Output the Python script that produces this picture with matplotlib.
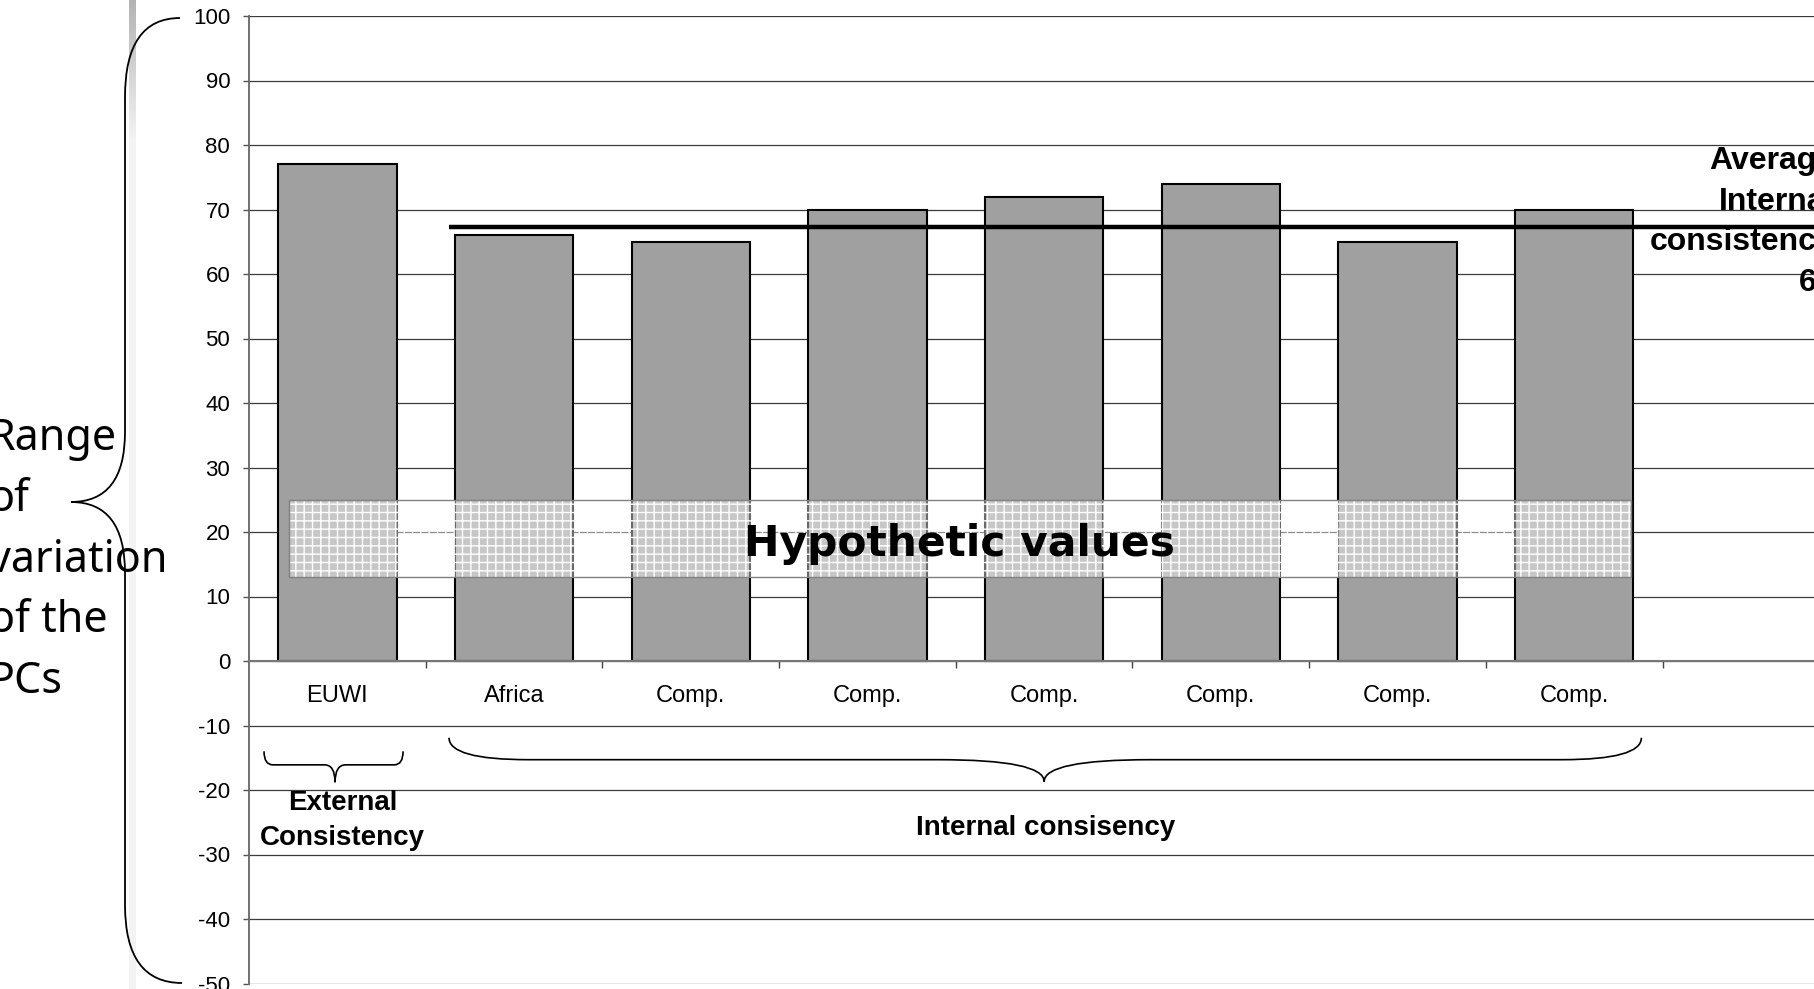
import matplotlib
matplotlib.use('Agg')
import matplotlib.pyplot as plt
import numpy as np
from matplotlib.patches import Rectangle, PathPatch
from matplotlib.path import Path

plt.rcParams['font.family'] = ['Liberation Sans', 'DejaVu Sans']
plt.rcParams['axes.unicode_minus'] = False

# data
categories = ['EUWI', 'Africa', 'Comp.', 'Comp.', 'Comp.', 'Comp.', 'Comp.', 'Comp.']
values = [77, 66, 65, 70, 72, 74, 65, 70]
avg_internal = 67.3
hyp_low, hyp_high = 13, 25
yticks = np.arange(-50, 101, 10)

W, H = 1814, 989


def fx(x):
    return x / W


def fy(y):
    return 1 - y / H


fig = plt.figure(figsize=(W / 100, H / 100), dpi=100)

# slide decoration strip
strip = fig.add_axes([fx(129), 0, 7 / W, 1])
grad = np.full((H, 1), 0.95)
grad[:140, 0] = np.linspace(0.70, 0.95, 140)
strip.imshow(grad, cmap='gray', vmin=0, vmax=1, aspect='auto')
strip.axis('off')

# category slot width in pixels, one empty slot on the right
slot = 176.7
ax = fig.add_axes([fx(249), fy(983.5), 9 * slot / W, (983.5 - 16) / H])

x = np.arange(len(categories))
ax.bar(x, values, width=0.67, color='#a0a0a0', edgecolor='black', lw=1.5, zorder=2)

ax.set_xlim(-0.5, 8.5)
ax.set_ylim(-50, 100)
ax.set_yticks(yticks)
ax.set_xticks(x)
ax.set_xticklabels(categories)
ax.set_xticks(np.arange(0.5, 9, 1), minor=True)
ax.tick_params(axis='x', which='major', length=0, pad=17, labelsize=17)
ax.tick_params(axis='x', which='minor', length=5, width=1, color='#444444', direction='out')
ax.tick_params(axis='y', length=4.5, width=1, color='#555555', pad=9, labelsize=16)

ax.spines['bottom'].set_position(('data', 0))
ax.spines['bottom'].set_color('#777777')
ax.spines['bottom'].set_linewidth(1.5)
ax.spines['left'].set_color('#666666')
ax.spines['left'].set_linewidth(1.3)
ax.spines['top'].set_visible(False)
ax.spines['right'].set_visible(False)
ax.yaxis.grid(True, color='#3a3a3a', lw=0.9)
ax.set_axisbelow(True)

# average of internal consistency
ax.hlines(avg_internal, 0.63, 8.5, color='black', lw=3.2, zorder=4)
avg_lines = ['Average', 'Internal', 'consistency', '{:.0f}'.format(avg_internal)]
for i, t in enumerate(avg_lines):
    ax.text(8.47, 76.3 - i * 6.3, t, ha='right', va='baseline', fontsize=23,
            fontweight='bold', clip_on=False, zorder=6)

# hypothetic values band
hx0, hx1 = -0.274, 7.32
ax.add_patch(Rectangle((hx0, hyp_low), hx1 - hx0, hyp_high - hyp_low,
                       facecolor=(1, 1, 1, 0.42), edgecolor='white', lw=0,
                       hatch='++', zorder=3))
ax.add_patch(Rectangle((hx0, hyp_low), hx1 - hx0, hyp_high - hyp_low,
                       facecolor='none', edgecolor='#808080', lw=1, zorder=3))
ax.text((hx0 + hx1) / 2, 16.3, 'Hypothetic values', ha='center', va='baseline',
        fontsize=30.5, fontweight='bold', family='DejaVu Sans', zorder=5)


def hbrace(x0, x1, xm, y_end, y_flat, y_tip, r_end, r_tip):
    verts = [(x0, y_end), (x0, y_flat), (x0 + r_end, y_flat),
             (xm - r_tip, y_flat), (xm, y_flat), (xm, y_tip),
             (xm, y_flat), (xm + r_tip, y_flat),
             (x1 - r_end, y_flat), (x1, y_flat), (x1, y_end)]
    codes = [Path.MOVETO, Path.CURVE3, Path.CURVE3,
             Path.LINETO, Path.CURVE3, Path.CURVE3,
             Path.CURVE3, Path.CURVE3,
             Path.LINETO, Path.CURVE3, Path.CURVE3]
    ax.add_patch(PathPatch(Path(verts, codes), facecolor='none', edgecolor='black',
                           lw=1.2, clip_on=False, zorder=5))


hbrace(-0.415, 0.372, -0.013, -14.0, -16.1, -18.8, 0.05, 0.06)
hbrace(0.632, 7.38, 4.0, -11.9, -15.3, -18.7, 0.45, 0.6)

ax.text(0.03, -23.1, 'External', ha='center', va='baseline', fontsize=20, fontweight='bold')
ax.text(0.03, -28.5, 'Consistency', ha='center', va='baseline', fontsize=20, fontweight='bold')
ax.text(4.01, -27.0, 'Internal consisency', ha='center', va='baseline', fontsize=20,
        fontweight='bold')

# left brace (figure pixels)
lb = [(180, 18), (125, 18), (125, 97), (125, 432), (125, 502), (71, 502),
      (125, 502), (125, 573), (125, 905), (125, 983), (182, 983)]
lb_codes = [Path.MOVETO, Path.CURVE3, Path.CURVE3, Path.LINETO, Path.CURVE3, Path.CURVE3,
            Path.CURVE3, Path.CURVE3, Path.LINETO, Path.CURVE3, Path.CURVE3]
lb_path = Path([(fx(a), fy(b)) for a, b in lb], lb_codes)
fig.add_artist(PathPatch(lb_path, facecolor='none', edgecolor='black', lw=1.3,
                         transform=fig.transFigure, zorder=5))

left_lines = ['Range', 'of', 'variation', 'of the', 'PCs']
for i, t in enumerate(left_lines):
    fig.text(fx(-11), fy(450 + i * 60.8), t, ha='left', va='baseline', fontsize=31,
             family='Noto Sans', zorder=6)

fig.savefig('out.png', dpi=100)
